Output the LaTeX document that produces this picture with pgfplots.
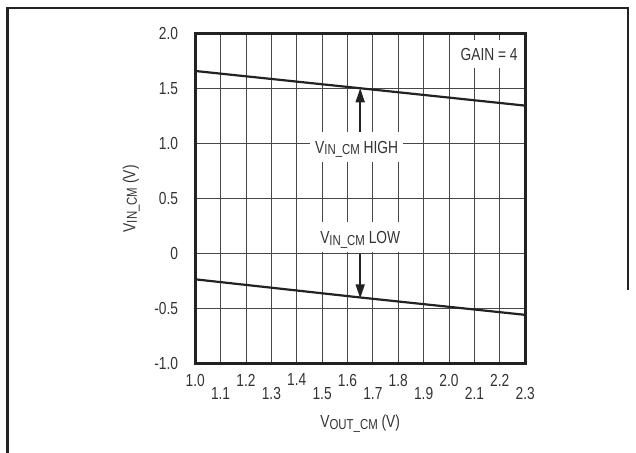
\documentclass[border=0pt]{standalone}
\usepackage{pgfplots}
\pgfplotsset{compat=1.18}
\usetikzlibrary{arrows.meta}
\usepackage{fontspec}
\setmainfont{Liberation Sans}[FakeStretch=0.79]
\definecolor{txt}{HTML}{333333}
\definecolor{frm}{HTML}{222222}
\newcommand{\sub}[1]{\raisebox{-0.08em}{\fontsize{14.5}{15}\selectfont #1}}
\begin{document}
\begin{tikzpicture}[font=\fontsize{17.5}{20}\selectfont, text=txt]
\useasboundingbox (-195.2bp,-89.2bp) rectangle (440.8bp,363.8bp);
\begin{axis}[
  at={(0,0)}, anchor=south west,
  scale only axis, width=330bp, height=330bp,
  xmin=1.0, xmax=2.3, ymin=-1, ymax=2,
  xtick={1.0,1.1,1.2,1.3,1.4,1.5,1.6,1.7,1.8,1.9,2.0,2.1,2.2,2.3},
  xticklabels={1.0,\rule{0pt}{25bp}1.1,1.2,\rule{0pt}{25bp}1.3,1.4,\rule{0pt}{25bp}1.5,1.6,\rule{0pt}{25bp}1.7,1.8,\rule{0pt}{25bp}1.9,2.0,\rule{0pt}{25bp}2.1,2.2,\rule{0pt}{25bp}2.3},
  ytick={-1,-0.5,0,0.5,1,1.5,2},
  yticklabels={-1.0,-0.5,0,0.5,1.0,1.5,2.0},
  major tick length=0pt,
  xticklabel style={inner sep=0pt, anchor=north, yshift=-10bp, text=txt},
  yticklabel style={inner sep=0pt, anchor=east, xshift=-17bp, text=txt},
  grid=major,
  major grid style={black!72, line width=0.8bp},
  axis line style={line width=2.8bp, frm},
  xlabel={V\sub{OUT\_CM} (V)},
  ylabel={V\sub{IN\_CM} (V)},
  xlabel style={at={(axis description cs:0.5,0)}, anchor=center, yshift=-60bp, text=txt},
  ylabel style={at={(axis description cs:0,0.5)}, anchor=center, yshift=64bp, text=txt},
  clip=false,
]
\addplot[line width=2.2bp, frm] coordinates {(1.0,1.662) (1.65,1.505) (2.3,1.347)};
\addplot[line width=2.2bp, frm] coordinates {(1.0,-0.232) (1.65,-0.397) (2.3,-0.555)};
\node[fill=white, inner xsep=5bp, inner ysep=0pt, text height=13bp, text depth=0pt, minimum height=30bp] at (axis cs:1.636,0.97) {V\sub{IN\_CM} HIGH};
\node[fill=white, inner xsep=4bp, inner ysep=0pt, text height=13bp, text depth=0pt, minimum height=30bp] at (axis cs:1.65,0.15) {V\sub{IN\_CM} LOW};
\node[anchor=east, fill=white, inner xsep=0pt, inner ysep=0pt, text height=13bp, text depth=0pt, minimum height=28bp] at (axis cs:2.271,1.82) {GAIN = 4};
\draw[line width=1.6bp, frm, -{Triangle[length=14bp,width=9bp]}] (axis cs:1.65,1.11) -- (axis cs:1.65,1.505);
\draw[line width=1.6bp, frm, -{Triangle[length=14bp,width=9bp]}] (axis cs:1.65,0) -- (axis cs:1.65,-0.405);
\end{axis}
\draw[line width=2.6bp, frm] (-187.7bp,-89.2bp) -- (-187.7bp,355.8bp) -- (432.8bp,355.8bp) -- (432.8bp,73.8bp);
\end{tikzpicture}
\end{document}
